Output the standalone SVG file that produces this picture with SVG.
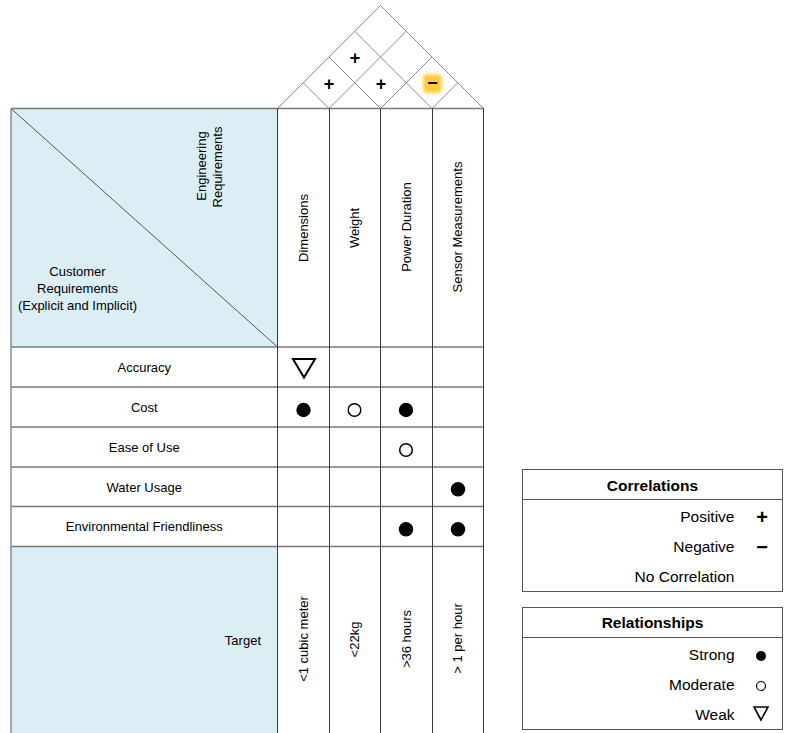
<svg xmlns="http://www.w3.org/2000/svg" width="788" height="733" viewBox="0 0 788 733">
<style>
  text { font-family: "Liberation Sans", Arial, sans-serif; fill: #000; }
  .t13 { font-size: 13px; }
  .lg { font-size: 15.5px; }
  .lgb { font-size: 15.5px; font-weight: bold; }
  .mid { text-anchor: middle; dominant-baseline: central; }
  .end { text-anchor: end; dominant-baseline: central; }
  .sym { font-weight: bold; text-anchor: middle; dominant-baseline: central; }
  .vline { stroke: #3a3a3a; stroke-width: 1; fill: none; }
  .hline { stroke: #7a7a7a; stroke-width: 1.3; fill: none; }
  .roof { stroke: #8a8a8a; stroke-width: 1; fill: none; }
  .box { fill: #fff; stroke: #555; stroke-width: 1; }
  .blue { fill: #dbeef4; }
  .strong { fill: #000; }
  .mod { fill: #fff; stroke: #000; stroke-width: 1.5; }
  .weak { fill: #fff; stroke: #000; stroke-width: 2; stroke-linejoin: miter; }
</style>
<defs>
  <filter id="blur" x="-50%" y="-50%" width="200%" height="200%">
    <feGaussianBlur stdDeviation="2.2"/>
  </filter>
</defs>
<rect x="0" y="0" width="788" height="733" fill="#fff"/>

<!-- Roof -->
<g id="roof">
  <polygon class="roof" points="277.5,108.5 380.5,5.5 483.5,108.5"/>
  <line class="roof" x1="329" y1="108.5" x2="303.25" y2="82.75"/>
  <line class="roof" x1="329" y1="108.5" x2="406.25" y2="31.25"/>
  <line class="roof" x1="380.5" y1="108.5" x2="329" y2="57"/>
  <line class="roof" x1="380.5" y1="108.5" x2="432" y2="57"/>
  <line class="roof" x1="432" y1="108.5" x2="354.75" y2="31.25"/>
  <line class="roof" x1="432" y1="108.5" x2="457.75" y2="82.75"/>
  <text class="sym" x="355" y="58" font-size="18">+</text>
  <text class="sym" x="329" y="84" font-size="18">+</text>
  <text class="sym" x="381" y="84" font-size="18">+</text>
  <rect x="423.5" y="74.5" width="18" height="18" rx="2" fill="#ffc531" filter="url(#blur)"/>
  <rect x="425" y="76" width="15" height="15" rx="2" fill="#ffcc3a"/>
  <text class="sym" x="432.5" y="83" font-size="18">−</text>
</g>

<!-- Header -->
<g id="header">
  <rect class="blue" x="11" y="108.5" width="266.5" height="238.5"/>
  <line stroke="#555" stroke-width="1" x1="11" y1="108.5" x2="277.5" y2="347"/>
  <text class="t13 mid" transform="translate(201,166) rotate(-90)">Engineering</text>
  <text class="t13 mid" transform="translate(217,167) rotate(-90)">Requirements</text>
  <text class="t13 mid" x="77.5" y="271">Customer</text>
  <text class="t13 mid" x="77.5" y="288">Requirements</text>
  <text class="t13 mid" x="77.5" y="305">(Explicit and Implicit)</text>
</g>

<g id="eng-requirements">
  <text class="t13 mid" transform="translate(303.25,228) rotate(-90)">Dimensions</text>
  <text class="t13 mid" transform="translate(354.75,228) rotate(-90)">Weight</text>
  <text class="t13 mid" transform="translate(406.25,227) rotate(-90)">Power Duration</text>
  <text class="t13 mid" transform="translate(457.75,227) rotate(-90)">Sensor Measurements</text>
</g>

<!-- Customer requirements -->
<g id="cust-requirements">
  <text class="t13 mid" x="144.25" y="367">Accuracy</text>
  <text class="t13 mid" x="144.25" y="407">Cost</text>
  <text class="t13 mid" x="144.25" y="447">Ease of Use</text>
  <text class="t13 mid" x="144.25" y="487">Water Usage</text>
  <text class="t13 mid" x="144.25" y="526">Environmental Friendliness</text>
</g>

<!-- Target -->
<g id="target">
  <rect class="blue" x="11" y="546.5" width="266.5" height="188"/>
  <text class="t13 end" x="261" y="640">Target</text>
  <text class="t13 mid" transform="translate(303.25,639) rotate(-90)">&lt;1 cubic meter</text>
  <text class="t13 mid" transform="translate(354.75,639.5) rotate(-90)">&lt;22kg</text>
  <text class="t13 mid" transform="translate(406.25,639) rotate(-90)">&gt;36 hours</text>
  <text class="t13 mid" transform="translate(457.75,638.5) rotate(-90)">&gt; 1 per hour</text>
</g>

<!-- Grid lines -->
<g id="grid">
  <line class="hline" x1="11" y1="108.5" x2="484" y2="108.5"/>
  <line class="hline" x1="11" y1="347" x2="484" y2="347"/>
  <line class="hline" x1="11" y1="387" x2="484" y2="387"/>
  <line class="hline" x1="11" y1="427" x2="484" y2="427"/>
  <line class="hline" x1="11" y1="467" x2="484" y2="467"/>
  <line class="hline" x1="11" y1="506.5" x2="484" y2="506.5"/>
  <line class="hline" x1="11" y1="546.5" x2="484" y2="546.5"/>
  <line class="hline" x1="11" y1="108.5" x2="11" y2="734"/>
  <line class="vline" x1="277.5" y1="108.5" x2="277.5" y2="734"/>
  <line class="vline" x1="329.5" y1="108.5" x2="329.5" y2="734"/>
  <line class="vline" x1="380.5" y1="108.5" x2="380.5" y2="734"/>
  <line class="vline" x1="432.5" y1="108.5" x2="432.5" y2="734"/>
  <line class="vline" x1="483.5" y1="108.5" x2="483.5" y2="734"/>
</g>

<!-- Relationship symbols -->
<g id="relationships">
  <polygon class="weak" points="293,359 315,359 304,377.5"/>
  <circle class="strong" cx="303.5" cy="410" r="7.2"/>
  <circle class="mod" cx="354.5" cy="410" r="6.3"/>
  <circle class="strong" cx="406" cy="410" r="7.2"/>
  <circle class="mod" cx="406" cy="450" r="6.3"/>
  <circle class="strong" cx="458" cy="489.3" r="7.2"/>
  <circle class="strong" cx="406" cy="529.3" r="7.2"/>
  <circle class="strong" cx="458" cy="529.3" r="7.2"/>
</g>

<!-- Legend: Correlations -->
<g id="legend-correlations">
  <rect class="box" x="522.5" y="469.5" width="260" height="122"/>
  <line stroke="#555" stroke-width="1" x1="522.5" y1="499.5" x2="782.5" y2="499.5"/>
  <text class="lgb mid" x="652.5" y="485">Correlations</text>
  <text class="lg end" x="734.5" y="516.5">Positive</text>
  <text class="sym" x="762" y="517" font-size="20">+</text>
  <text class="lg end" x="734.5" y="546.5">Negative</text>
  <text class="sym" x="762" y="546.5" font-size="20">−</text>
  <text class="lg end" x="734.5" y="576.5">No Correlation</text>
</g>

<!-- Legend: Relationships -->
<g id="legend-relationships">
  <rect class="box" x="522.5" y="607.5" width="260" height="122"/>
  <line stroke="#555" stroke-width="1" x1="522.5" y1="637.5" x2="782.5" y2="637.5"/>
  <text class="lgb mid" x="652.5" y="622.5">Relationships</text>
  <text class="lg end" x="734.5" y="654.5">Strong</text>
  <circle class="strong" cx="761" cy="656" r="5"/>
  <text class="lg end" x="734.5" y="684.5">Moderate</text>
  <circle cx="761" cy="686" r="4.5" fill="#fff" stroke="#000" stroke-width="1.2"/>
  <text class="lg end" x="734.5" y="714">Weak</text>
  <polygon points="754,707 768,707 761,720" fill="#fff" stroke="#000" stroke-width="1.6"/>
</g>
</svg>
